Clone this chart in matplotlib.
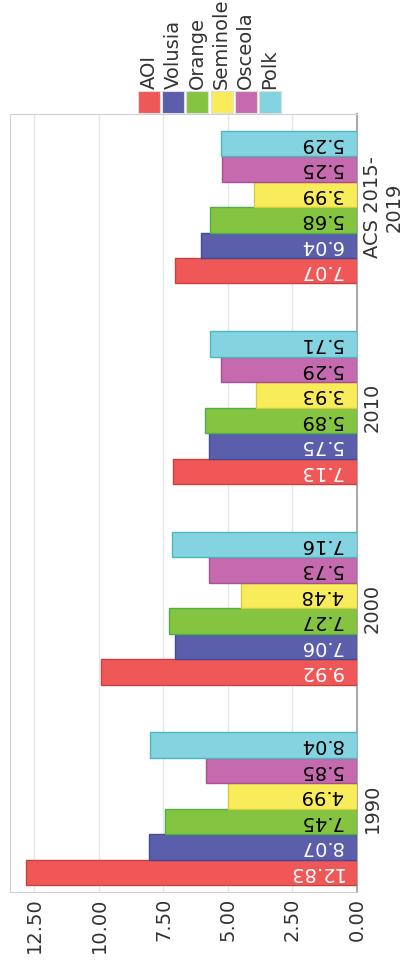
import matplotlib
matplotlib.use("Agg")
import matplotlib.pyplot as plt
from matplotlib.patches import Rectangle
import numpy as np

periods = ["1990", "2000", "2010", "ACS 2015-\n2019"]
areas = ["AOI", "Volusia", "Orange", "Seminole", "Osceola", "Polk"]
values = {
    "AOI":      [12.83, 9.92, 7.13, 7.07],
    "Volusia":  [8.07, 7.06, 5.75, 6.04],
    "Orange":   [7.45, 7.27, 5.89, 5.68],
    "Seminole": [4.99, 4.48, 3.93, 3.99],
    "Osceola":  [5.85, 5.73, 5.29, 5.25],
    "Polk":     [8.04, 7.16, 5.71, 5.29],
}
colors = ["#F05858", "#5A5EAB", "#84C441", "#F8EC5A", "#C56AAE", "#84D3E1"]
edges = ["#C84040", "#454A96", "#4CB043", "#D8CC40", "#A85090", "#4BB8BC"]
text_colors = ["white", "white", "black", "black", "black", "black"]
xticks = [0, 2.5, 5, 7.5, 10, 12.5]

FS = 14
fig = plt.figure(figsize=(4.06, 9.73), dpi=100)
ax = fig.add_axes([0.0246, 0.0832, 0.8547, 0.7996])

bh = 0.127
idx = np.arange(len(periods))
for k, (name, c, ec, tc) in enumerate(zip(areas, colors, edges, text_colors)):
    ys = idx + (k - 2.5) * bh
    ax.barh(ys, values[name], height=bh, color=c, edgecolor=ec, linewidth=1, zorder=3)
    for y, v in zip(ys, values[name]):
        ax.text(0.55, y, f"{v:.2f}", rotation=180, ha="right", va="center",
                fontsize=FS, color=tc, zorder=4)

ax.set_xlim(13.45, 0)
ax.set_ylim(-0.416, 3.464)
ax.set_xticks(xticks)
ax.set_xticklabels([f"{t:.2f}" for t in xticks], rotation=90, fontsize=FS, color="#333333")
ax.yaxis.tick_right()
ax.set_yticks(idx)
ax.set_yticklabels(periods, rotation=90, va="center", ha="left", fontsize=FS,
                   color="#333333", multialignment="center")
ax.tick_params(length=0, pad=4)
ax.grid(axis="x", color="#e6e6e6", lw=1, zorder=0)
for s in ["left", "top", "bottom"]:
    ax.spines[s].set_color("#d0d0d0")
ax.spines["right"].set_color("#aaaaaa")
ax.spines["right"].set_linewidth(1.5)

# legend: squares in a row, labels rotated above
lx0, step, sq = 138, 24.2, 22
for k, (name, c) in enumerate(zip(areas, colors)):
    x = lx0 + k * step
    fig.patches.append(Rectangle((x / 406, 1 - 113 / 973), sq / 406, sq / 973,
                                 transform=fig.transFigure, facecolor=c,
                                 edgecolor="#dddddd", lw=0.8))
    fig.text((x + sq / 2) / 406, 1 - 89 / 973, name, rotation=90, ha="center",
             va="bottom", fontsize=FS, color="#333333")

fig.savefig("out.png", dpi=100)
